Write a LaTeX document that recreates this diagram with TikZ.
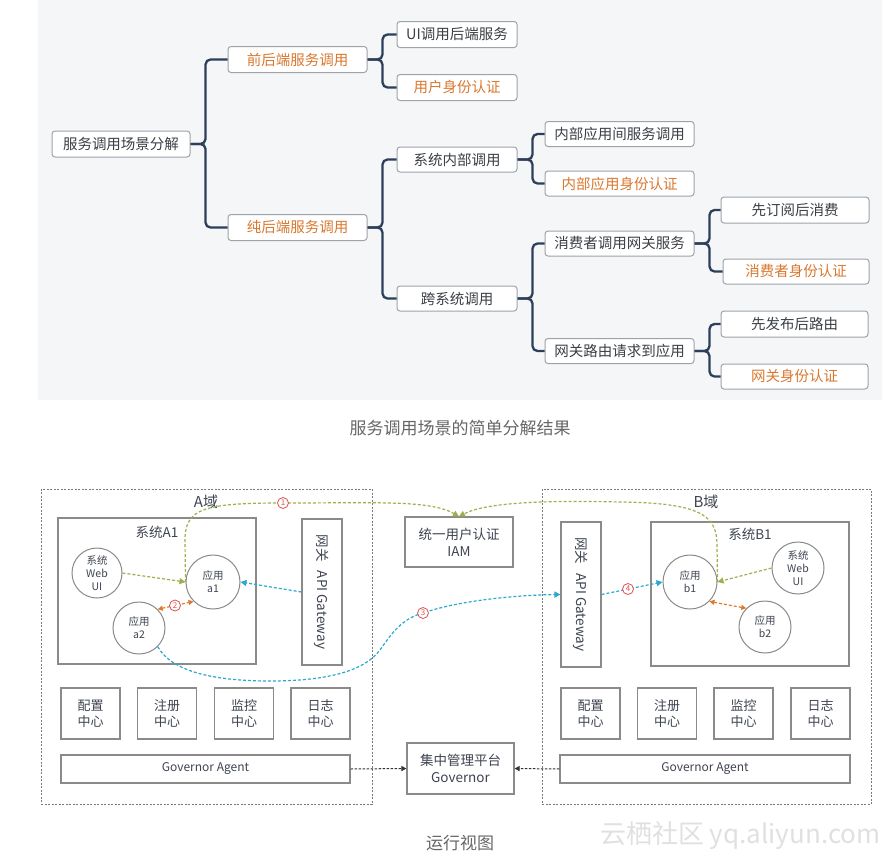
\documentclass[tikz,border=0pt]{standalone}
\usepackage{fontspec}
\setmainfont{Noto Sans CJK SC}
\usetikzlibrary{arrows.meta,calc}
\definecolor{bgtop}{HTML}{F5F6F8}
\definecolor{mmline}{HTML}{2D3E5A}
\definecolor{mmborder}{HTML}{9EA3AA}
\definecolor{mmtext}{HTML}{3B3F46}
\definecolor{mmorange}{HTML}{D9782F}
\definecolor{boxgray}{HTML}{8A8A8A}
\definecolor{domgray}{HTML}{7A7A7A}
\definecolor{gline}{HTML}{9DB04E}
\definecolor{cline}{HTML}{2BA8CF}
\definecolor{oline}{HTML}{E07A2A}
\definecolor{numred}{HTML}{D9534F}
\definecolor{captgray}{HTML}{666666}
\definecolor{darktext}{HTML}{3E4450}
\tikzset{
  mm/.style={draw=mmborder, line width=1pt, rounded corners=3pt, fill=white,
    minimum height=26, inner sep=0pt, text=mmtext,
    font=\fontsize{14.5}{16}\selectfont},
  mmo/.style={mm, text=mmorange},
  conn/.style={draw=mmline, line width=2.3pt, rounded corners=5pt},
  dom/.style={draw=domgray, line width=0.8pt, dash pattern=on 2pt off 1.5pt, inner sep=0pt},
  sysbox/.style={draw=boxgray, line width=1.1pt, fill=white, inner sep=0pt},
  plainbox/.style={draw=boxgray, line width=1.1pt, fill=white, inner sep=0pt, align=center, text=darktext},
  appc/.style={circle, draw=boxgray, line width=1pt, fill=white, inner sep=0pt,
    align=center, text=darktext, font=\fontsize{10.5}{13}\selectfont},
  gdash/.style={draw=gline, line width=1.2pt, dash pattern=on 3pt off 2pt},
  cdash/.style={draw=cline, line width=1.2pt, dash pattern=on 3pt off 2pt},
  odash/.style={draw=oline, line width=1.2pt, dash pattern=on 3pt off 2pt},
  kdash/.style={draw=black!80, line width=1pt, dash pattern=on 2.5pt off 1.5pt},
  gtip/.style={-{Triangle[length=6pt,width=6pt,fill=gline]}},
  ctip/.style={-{Triangle[length=6pt,width=6pt,fill=cline]}},
  otip/.style={{Triangle[length=5pt,width=5pt,fill=oline]}-{Triangle[length=5pt,width=5pt,fill=oline]}},
  ktip/.style={-{Triangle[length=5pt,width=5pt]}},
  num/.style={circle, draw=numred, line width=0.8pt, fill=white, inner sep=0pt,
    minimum size=11, text=numred, font=\fontsize{8}{8}\selectfont},
  capt/.style={text=captgray, font=\fontsize{17}{20}\selectfont},
}
\begin{document}
\begin{tikzpicture}[x=1pt,y=-1pt]
\useasboundingbox (0,0) rectangle (892,862);
\fill[bgtop] (38,0) rectangle (882,400);

% ---------- mind map ----------
\node[mm, minimum width=138] (root) at (121,144) {服务调用场景分解};
\node[mmo, minimum width=139] (fq) at (297.5,59.5) {前后端服务调用};
\node[mmo, minimum width=139] (ch) at (297.5,227.5) {纯后端服务调用};
\node[mm, minimum width=120] (ui) at (457,34.5) {UI调用后端服务};
\node[mmo, minimum width=120] (yh) at (457,87.5) {用户身份认证};
\node[mm, minimum width=120, minimum height=25] (xt) at (457,159.5) {系统内部调用};
\node[mm, minimum width=120, minimum height=25] (kx) at (457,298.5) {跨系统调用};
\node[mm, minimum width=149, minimum height=25] (nb1) at (619.5,134) {内部应用间服务调用};
\node[mmo, minimum width=149, minimum height=25] (nb2) at (619.5,183.5) {内部应用身份认证};
\node[mm, minimum width=149, minimum height=25] (xf) at (619.5,243.5) {消费者调用网关服务};
\node[mm, minimum width=149, minimum height=25] (wg) at (619.5,351) {网关路由请求到应用};
\node[mm, minimum width=148] (xd) at (795,210) {先订阅后消费};
\node[mmo, minimum width=146, minimum height=25] (xs) at (796,271.5) {消费者身份认证};
\node[mm, minimum width=147] (xb) at (794.5,324) {先发布后路由};
\node[mmo, minimum width=147, minimum height=25] (ws) at (794.5,376.5) {网关身份认证};

\foreach \p/\c in {root/fq, root/ch, fq/ui, fq/yh, ch/xt, ch/kx, xt/nb1, xt/nb2, kx/xf, kx/wg, xf/xd, xf/xs, wg/xb, wg/ws}
  \draw[conn] (\p.east) -- ++(15,0) |- (\c.west);

\node[capt] (cap1) at (460,428) {服务调用场景的简单分解结果};

% ---------- run view ----------
\node[dom, minimum width=331, minimum height=315] (Adom) at (206.5,646.5) {};
\node[dom, minimum width=329, minimum height=315] (Bdom) at (706.5,646.5) {};
\node[text=darktext, font=\fontsize{15}{18}\selectfont] (Alab) at (206,502) {A域};
\node[text=darktext, font=\fontsize{15}{18}\selectfont] (Blab) at (706,502) {B域};

\node[sysbox, minimum width=198, minimum height=146] (sysA) at (157,591) {};
\node[text=darktext, font=\fontsize{13.5}{16}\selectfont] (sysAlab) at (157,532) {系统A1};
\node[sysbox, minimum width=198, minimum height=144] (sysB) at (750,594) {};
\node[text=darktext, font=\fontsize{13.5}{16}\selectfont] (sysBlab) at (750,534) {系统B1};

\node[plainbox, minimum width=40, minimum height=146] (gwA) at (322,592) {};
\node[rotate=-90, text=darktext, font=\fontsize{13.5}{16}\selectfont] (gwAt) at (gwA) {网关\hspace{9pt}API Gateway};
\node[plainbox, minimum width=40, minimum height=145] (gwB) at (581,594.5) {};
\node[rotate=-90, text=darktext, font=\fontsize{13.5}{16}\selectfont] (gwBt) at (gwB) {网关\hspace{9pt}API Gateway};

\node[plainbox, minimum width=108, minimum height=50, font=\fontsize{13.5}{17}\selectfont] (iam) at (459,542) {统一用户认证\\IAM};

\node[appc, minimum size=50] (webA) at (97,573) {系统\\Web\\UI};
\node[appc, minimum size=54] (a1) at (213,582) {应用\\a1};
\node[appc, minimum size=52] (a2) at (139,628) {应用\\a2};
\node[appc, minimum size=54] (b1) at (690,582) {应用\\b1};
\node[appc, minimum size=52] (webB) at (798,568) {系统\\Web\\UI};
\node[appc, minimum size=52] (b2) at (765,627) {应用\\b2};

\foreach \n/\x/\t in {cA1/90.5/配置, cA2/167/注册, cA3/244/监控, cA4/320.5/日志,
                      cB1/590.5/配置, cB2/667/注册, cB3/743.5/监控, cB4/820.5/日志}
  \node[plainbox, minimum width=59, minimum height=51, font=\fontsize{13}{16}\selectfont] (\n) at (\x,713.5) {\t\\中心};

\node[plainbox, minimum width=289, minimum height=28, font=\fontsize{12}{14}\selectfont] (gaA) at (205.5,769) {Governor Agent};
\node[plainbox, minimum width=290, minimum height=28, font=\fontsize{12}{14}\selectfont] (gaB) at (705,769) {Governor Agent};
\node[plainbox, minimum width=107, minimum height=51, font=\fontsize{13.5}{17}\selectfont] (gov) at (460.5,768.5) {集中管理平台\\Governor};

\draw[kdash, ktip] (gaA.east) -- (gov.west);
\draw[kdash, ktip] (gaB.west) -- (gov.east);

% green (1)
\draw[gdash, gtip] (webA.east) -- (a1.west);
\draw[gdash, gtip] (webB.west) -- (b1.east);
\draw[gdash, gtip] (a1.west) -- (185,540) .. controls (185,508) and (205,503) .. (283,503)
   .. controls (380,503) and (430,500) .. (iam.north);
\draw[gdash, gtip] (b1.east) -- (717,545) .. controls (717,515) and (700,503) .. (620,502)
   .. controls (540,500) and (485,503) .. (iam.north);
\node[num] (n1) at (283,503) {1};

% orange (2)
\draw[odash, otip] (a2.north east) -- (a1.south west);
\draw[odash, otip] (b1.south east) -- (b2.north west);
\node[num] (n2) at (175,605.5) {2};

% cyan
\draw[cdash, ctip] (gwA.west) -- (a1.east);
\draw[cdash, ctip] (a2.south east) .. controls (172,672) and (215,681) .. (270,681)
   .. controls (330,681) and (365,670) .. (380,650)
   .. controls (395,628) and (405,618) .. (423,613)
   .. controls (460,600) and (520,595) .. (gwB.west);
\node[num] (n3) at (423,613) {3};
\draw[cdash, ctip] (gwB.east) -- (b1.west);
\node[num] (n4) at (628,589) {4};

\node[capt] (cap2) at (460,843) {运行视图};
\node[text=black!12, font=\fontsize{26}{28}\selectfont, anchor=east] (wm) at (884,836) {云栖社区 yq.aliyun.com};
\end{tikzpicture}
\end{document}
